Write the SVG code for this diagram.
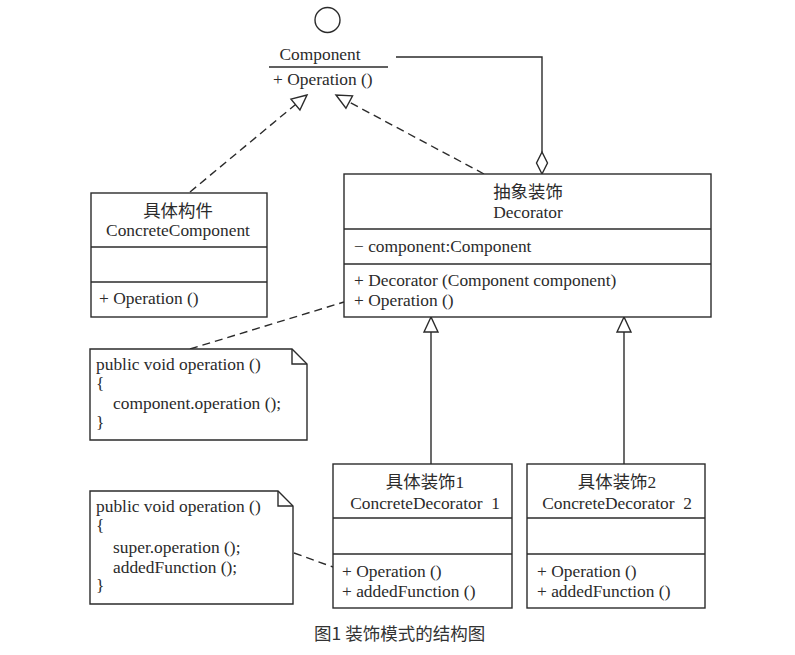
<svg xmlns="http://www.w3.org/2000/svg" width="795" height="655" viewBox="0 0 795 655">
<style>
.t{font-family:"Liberation Serif","Noto Sans CJK SC",serif;font-size:17.4px;fill:#2b2b2b}
.c{text-anchor:middle}
.b{fill:#fff;stroke:#2b2b2b;stroke-width:1.4}
.l{fill:none;stroke:#2b2b2b;stroke-width:1.4}
.d{stroke-dasharray:8 5}
.cap{font-family:"Noto Sans CJK SC","Liberation Sans",sans-serif;font-size:17.5px;fill:#333}
</style>
<defs>
<marker id="tri" markerUnits="userSpaceOnUse" viewBox="-17 -9 19 18" refX="0" refY="0" markerWidth="19" markerHeight="18" orient="auto">
<path d="M0,0 L-15,-7 L-15,7 Z" fill="#fff" stroke="#2b2b2b" stroke-width="1.4" stroke-dasharray="none"/>
</marker>
</defs>
<rect width="795" height="655" fill="#fff"/>

<g id="component">
<circle cx="327.5" cy="20" r="12.5" class="l"/>
<text x="320" y="60" class="t c">Component</text>
<line x1="269" y1="67" x2="388" y2="67" class="l"/>
<text x="273" y="85" class="t">+ Operation ()</text>
</g>

<g id="connectors">
<path d="M190,192 L307,95" class="l d" marker-end="url(#tri)"/>
<path d="M484,174 L336,95" class="l d" marker-end="url(#tri)"/>
<path d="M431,464 V317" class="l" marker-end="url(#tri)"/>
<path d="M624,464 V317" class="l" marker-end="url(#tri)"/>
<path d="M396,57 H542 V152" class="l"/>
<polygon points="542,152 547.5,163 542,174 536.5,163" class="b"/>
<path d="M190,349 L344,302" class="l d"/>
<path d="M294,553 L333,567" class="l d"/>
</g>

<g id="concreteComponent">
<rect x="91" y="193" width="176" height="124" class="b"/>
<line x1="91" y1="247" x2="267" y2="247" class="l"/>
<line x1="91" y1="282" x2="267" y2="282" class="l"/>
<text x="178" y="217" class="t c">具体构件</text>
<text x="178" y="236" class="t c">ConcreteComponent</text>
<text x="99" y="304" class="t">+ Operation ()</text>
</g>

<g id="decorator">
<rect x="344" y="174" width="367" height="143" class="b"/>
<line x1="344" y1="229" x2="711" y2="229" class="l"/>
<line x1="344" y1="264" x2="711" y2="264" class="l"/>
<text x="528" y="198" class="t c">抽象装饰</text>
<text x="528" y="218" class="t c">Decorator</text>
<text x="354" y="252" class="t">− component:Component</text>
<text x="354" y="286" class="t">+ Decorator (Component component)</text>
<text x="354" y="306" class="t">+ Operation ()</text>
</g>

<g id="note1">
<path d="M90,349 H292 L307,364 V440 H90 Z" class="b"/>
<path d="M292,349 V364 H307" class="l"/>
<text x="96" y="370" class="t">public void operation ()</text>
<text x="96" y="389" class="t">{</text>
<text x="113" y="409" class="t">component.operation ();</text>
<text x="96" y="428" class="t">}</text>
</g>

<g id="note2">
<path d="M90,491 H278 L293,506 V604 H90 Z" class="b"/>
<path d="M278,491 V506 H293" class="l"/>
<text x="96" y="512" class="t">public void operation ()</text>
<text x="96" y="531" class="t">{</text>
<text x="113" y="553" class="t">super.operation ();</text>
<text x="113" y="573" class="t">addedFunction ();</text>
<text x="96" y="591" class="t">}</text>
</g>

<g id="concreteDecorator1">
<rect x="333" y="464" width="179" height="144" class="b"/>
<line x1="333" y1="518" x2="512" y2="518" class="l"/>
<line x1="333" y1="554" x2="512" y2="554" class="l"/>
<text x="425" y="488" class="t c">具体装饰1</text>
<text x="425" y="509" class="t c">ConcreteDecorator&#160; 1</text>
<text x="342" y="577" class="t">+ Operation ()</text>
<text x="342" y="597" class="t">+ addedFunction ()</text>
</g>

<g id="concreteDecorator2">
<rect x="527" y="464" width="178" height="144" class="b"/>
<line x1="527" y1="518" x2="705" y2="518" class="l"/>
<line x1="527" y1="554" x2="705" y2="554" class="l"/>
<text x="617" y="488" class="t c">具体装饰2</text>
<text x="617" y="509" class="t c">ConcreteDecorator&#160; 2</text>
<text x="537" y="577" class="t">+ Operation ()</text>
<text x="537" y="597" class="t">+ addedFunction ()</text>
</g>

<text x="314" y="640" class="cap">图1 装饰模式的结构图</text>
</svg>
